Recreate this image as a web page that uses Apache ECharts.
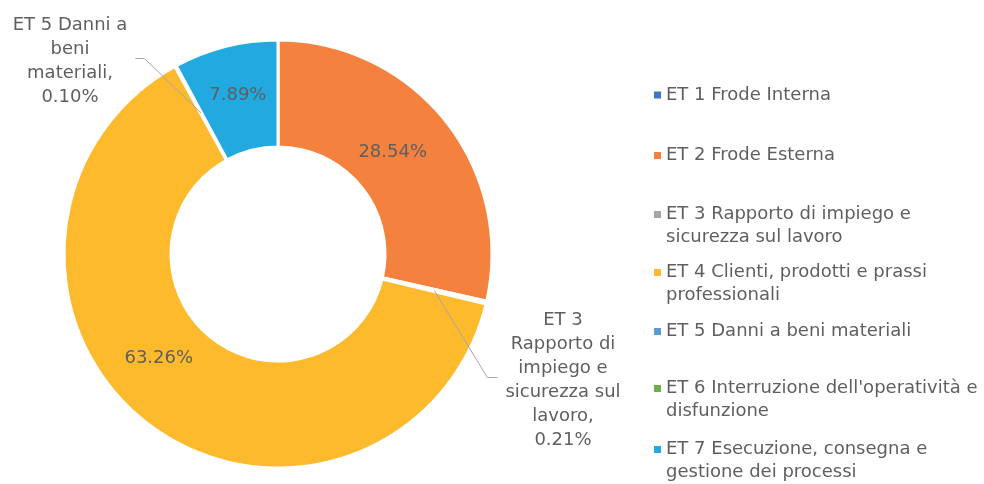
<!DOCTYPE html>
<html>
<head>
<meta charset="utf-8">
<script src="https://cdn.jsdelivr.net/npm/echarts@6/dist/echarts.min.js"></script>
<style>
  html, body { margin: 0; padding: 0; background: #fff; }
  #chart { width: 984px; height: 484px; }
</style>
</head>
<body>
<div id="chart"></div>
<script>
// categorie (ordine orario a partire dalle ore 12)
const categories = [
  'ET 1 Frode Interna',
  'ET 2 Frode Esterna',
  'ET 3 Rapporto di impiego e sicurezza sul lavoro',
  'ET 4 Clienti, prodotti e prassi professionali',
  'ET 5 Danni a beni materiali',
  "ET 6 Interruzione dell'operatività e disfunzione",
  'ET 7 Esecuzione, consegna e gestione dei processi'
]
// quote percentuali
const values = [0, 28.54, 0.21, 63.26, 0.10, 0, 7.89]
// testi della legenda, spezzati come nell'originale
const legendLabels = [
  'ET 1 Frode Interna',
  'ET 2 Frode Esterna',
  'ET 3 Rapporto di impiego e\nsicurezza sul lavoro',
  'ET 4 Clienti, prodotti e prassi\nprofessionali',
  'ET 5 Danni a beni materiali',
  "ET 6 Interruzione dell'operatività e\ndisfunzione",
  'ET 7 Esecuzione, consegna e\ngestione dei processi'
]
// etichette esterne per le fette piccole
const outsideNames = {
  2: 'ET 3\nRapporto di\nimpiego e\nsicurezza sul\nlavoro,',
  4: 'ET 5 Danni a\nbeni\nmateriali,'
}

const colors = ['#4472C4', '#F4823E', '#A5A5A5', '#FDBA2D', '#5B9BD5', '#70AD47', '#21A9E0']
const FONT = 'DejaVu Sans'
const TEXT = '#5f5f5f'
const CENTER = [278, 254]
const R_IN = 107
const R_OUT = 214

// posizione verticale (prima riga) delle voci di legenda
const legendY = [95, 155.5, 214.5, 272.5, 331.5, 388.5, 449.5]

const chart = echarts.init(document.getElementById('chart'), null, { renderer: 'canvas' })

const fmtPct = (v) => v.toFixed(2) + '%'
const total = values.reduce((a, b) => a + b, 0)

// anello con le etichette interne
const ringData = categories.map((name, i) => {
  const item = { name, value: values[i], itemStyle: { color: colors[i] } }
  if (values[i] === 0 || outsideNames[i]) item.label = { show: false }
  return item
})

// copia trasparente sopra l'anello: solo etichette esterne e linee guida
const calloutData = categories.map((name, i) => {
  const item = { name, value: values[i] }
  if (outsideNames[i]) {
    item.label = {
      show: true,
      position: 'outside',
      formatter: () => outsideNames[i] + '\n' + fmtPct(values[i]),
      lineHeight: 24
    }
    item.labelLine = { show: true, lineStyle: { color: '#a6a6a6', width: 1 } }
  } else {
    item.label = { show: false }
    item.labelLine = { show: false }
  }
  return item
})

// ritocchi di posizione delle etichette
const labelShift = {
  1: { dx: -13, dy: 0 },
  3: { dx: -20, dy: -26 }
}
const outsidePos = {
  2: { x: 563, y: 380, side: 'right' },
  4: { x: 70, y: 61, side: 'left' }
}

// punto a metà anello sulla bisettrice della fetta
const midRingPoint = (i) => {
  let before = 0
  for (let k = 0; k < i; k++) before += values[k]
  const a = (90 - ((before + values[i] / 2) / total) * 360) * Math.PI / 180
  const r = (R_IN + R_OUT) / 2
  return [CENTER[0] + r * Math.cos(a), CENTER[1] - r * Math.sin(a)]
}

const baseLabel = {
  fontFamily: FONT,
  fontSize: 18,
  color: TEXT
}

const option = {
  backgroundColor: '#fff',
  animation: false,
  textStyle: { fontFamily: FONT },
  legend: categories.map((name, i) => {
    const twoLines = legendLabels[i].indexOf('\n') >= 0
    return {
      data: [name],
      orient: 'vertical',
      left: 654,
      top: legendY[i] - (twoLines ? 34.5 : 11.5),
      padding: 0,
      itemGap: 0,
      itemWidth: 7,
      itemHeight: 7,
      icon: 'rect',
      selectedMode: false,
      itemStyle: { borderWidth: 0 },
      // riga vuota sopra: il quadratino resta allineato alla prima riga
      formatter: () => (twoLines ? '\n' : '') + legendLabels[i],
      textStyle: {
        fontFamily: FONT,
        fontSize: 18,
        lineHeight: 23,
        color: TEXT
      }
    }
  }),
  series: [
    {
      type: 'pie',
      center: CENTER,
      radius: [R_IN, R_OUT],
      startAngle: 90,
      clockwise: true,
      avoidLabelOverlap: false,
      itemStyle: { borderColor: '#fff', borderWidth: 3 },
      label: Object.assign({ show: true, position: 'inside', formatter: (p) => fmtPct(p.value) }, baseLabel),
      labelLayout: (p) => labelShift[p.dataIndex] || {},
      data: ringData
    },
    {
      type: 'pie',
      z: 5,
      silent: true,
      center: CENTER,
      radius: [R_IN, R_OUT],
      startAngle: 90,
      clockwise: true,
      avoidLabelOverlap: false,
      itemStyle: { color: 'rgba(0,0,0,0)', borderWidth: 0 },
      label: Object.assign({ position: 'outside' }, baseLabel),
      labelLayout: (p) => {
        const i = p.dataIndex
        const o = outsidePos[i]
        if (!o) return {}
        const hw = p.labelRect.width / 2
        const s = midRingPoint(i)
        const ex = o.side === 'right' ? o.x - hw - 8 : o.x + hw + 8
        const bx = o.side === 'right' ? ex - 10 : ex + 9
        return {
          x: o.x,
          y: o.y,
          align: 'center',
          verticalAlign: 'middle',
          labelLinePoints: [s, [bx, o.y - 2.5], [ex, o.y - 2.5]]
        }
      },
      data: calloutData
    }
  ]
}

chart.setOption(option)
window.addEventListener('resize', () => chart.resize())
</script>
</body>
</html>
